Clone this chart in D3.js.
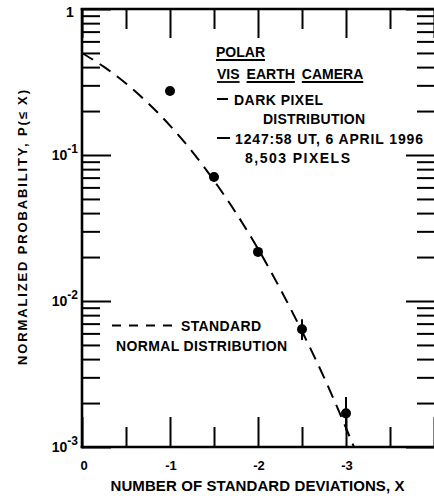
<!DOCTYPE html>
<html>
<head>
<meta charset="utf-8">
<script src="https://cdn.jsdelivr.net/npm/d3@7"></script>
<style>
  html, body { margin: 0; padding: 0; background: #fff; }
  svg { display: block; }
  text { font-family: "Liberation Sans", Arial, Helvetica, sans-serif; font-weight: bold; fill: #000; }
</style>
</head>
<body>
<div id="chart"></div>
<script>
// ---------------- data ----------------
const pointsX = [-1, -1.5, -2, -2.5, -3];
const pointsP = [0.274, 0.0706, 0.0217, 0.0064, 0.0017];
const errLow  = [null, null, null, 0.0054, 0.0013];
const errHigh = [null, null, null, 0.0075, 0.0022];

// standard normal distribution curve
const curveX = [0, -0.25, -0.5, -0.75, -1, -1.25, -1.5, -1.75, -2, -2.25, -2.5, -2.75, -3, -3.09];
const curveP = [0.5, 0.401, 0.309, 0.227, 0.159, 0.106, 0.0668, 0.0401, 0.0228, 0.0122, 0.0062, 0.0030, 0.00135, 0.001];

const xMajorTicks = [0, -1, -2, -3, -4];
const xMinorTicks = [-0.5, -1.5, -2.5, -3.5];
const xTickLabels = ["0", "-1", "-2", "-3"];
const yMajorTicks = [1e-3, 1e-2, 1e-1, 1];
const yTickLabels = [["10", "-3"], ["10", "-2"], ["10", "-1"], ["1", ""]];

const annotationLines = [
  "POLAR",
  "VIS EARTH CAMERA",
  "DARK PIXEL",
  "DISTRIBUTION",
  "1247:58 UT,  6 APRIL 1996",
  "8,503  PIXELS"
];
const legendLines = ["STANDARD", "NORMAL  DISTRIBUTION"];
const xTitle = "NUMBER OF STANDARD DEVIATIONS, X";
const yTitle = "NORMALIZED  PROBABILITY,  P(\u2264 X)";

// ---------------- layout ----------------
const W = 434, H = 500;
const L = 82, R = 434, T = 9, B = 447;

const svg = d3.select("#chart").append("svg").attr("width", W).attr("height", H);

const x = d3.scaleLinear().domain([0, -4]).range([L, R]);
const y = d3.scaleLog().domain([1e-3, 1]).range([B, T]);

const yMinorTicks = [];
[1e-3, 1e-2, 1e-1].forEach(d => { for (let k = 2; k <= 9; k++) yMinorTicks.push(+(k * d).toPrecision(3)); });

function styleAxis(g) {
  g.select(".domain").remove();
  g.selectAll(".tick line").attr("stroke", "#000").attr("stroke-width", 2);
  g.selectAll(".tick text").remove();
}

// bottom axis ticks (inward)
svg.append("g").attr("transform", `translate(0,${B})`)
  .call(d3.axisBottom(x).tickValues(xMajorTicks).tickSize(-30)).call(styleAxis);
svg.append("g").attr("transform", `translate(0,${B})`)
  .call(d3.axisBottom(x).tickValues(xMinorTicks).tickSize(-20)).call(styleAxis);
// top axis ticks (inward)
svg.append("g").attr("transform", `translate(0,${T})`)
  .call(d3.axisTop(x).tickValues(xMajorTicks).tickSize(-29)).call(styleAxis);
svg.append("g").attr("transform", `translate(0,${T})`)
  .call(d3.axisTop(x).tickValues(xMinorTicks).tickSize(-20)).call(styleAxis);
// left axis ticks (inward)
svg.append("g").attr("transform", `translate(${L},0)`)
  .call(d3.axisLeft(y).tickValues(yMajorTicks).tickSize(-29)).call(styleAxis);
svg.append("g").attr("transform", `translate(${L},0)`)
  .call(d3.axisLeft(y).tickValues(yMinorTicks).tickSize(-18)).call(styleAxis);
// right axis ticks (inward)
const RX = 436;
svg.append("g").attr("transform", `translate(${RX},0)`)
  .call(d3.axisRight(y).tickValues(yMajorTicks).tickSize(-30)).call(styleAxis);
svg.append("g").attr("transform", `translate(${RX},0)`)
  .call(d3.axisRight(y).tickValues(yMinorTicks).tickSize(-19)).call(styleAxis);

// frame
const frame = svg.append("g").attr("stroke", "#000").attr("stroke-width", 2.6).attr("fill", "none");
frame.append("line").attr("x1", L).attr("x2", L).attr("y1", T - 1).attr("y2", B + 1.3);
frame.append("line").attr("x1", L - 1.3).attr("x2", W).attr("y1", B).attr("y2", B);
frame.append("line").attr("x1", L - 1.3).attr("x2", W).attr("y1", T).attr("y2", T);

// x tick labels
svg.append("g").selectAll("text").data(xTickLabels).join("text")
  .attr("x", (d, i) => x(xMajorTicks[i]) + (i === 0 ? 2 : 1))
  .attr("y", 470)
  .attr("text-anchor", "middle")
  .attr("font-size", 13)
  .text(d => d);

// y tick labels
const yl = svg.append("g");
yTickLabels.forEach((lab, i) => {
  const v = yMajorTicks[i];
  if (lab[1] === "") {
    yl.append("text").attr("x", 70).attr("y", y(v) + 8).attr("text-anchor", "middle")
      .attr("font-size", 14).text(lab[0]);
  } else {
    const t = yl.append("text").attr("x", 78).attr("y", y(v) + 5).attr("text-anchor", "end");
    t.append("tspan").attr("font-size", 14).text(lab[0]);
    t.append("tspan").attr("font-size", 12).attr("dy", -7).text(lab[1]);
  }
});

// axis titles
svg.append("text").attr("x", (110 + 405) / 2).attr("y", 491).attr("text-anchor", "middle")
  .attr("font-size", 15).attr("textLength", 294).attr("lengthAdjust", "spacing").text(xTitle);
svg.append("text").attr("transform", `translate(27,${(90 + 365) / 2}) rotate(-90)`)
  .attr("text-anchor", "middle").attr("font-size", 13)
  .attr("textLength", 275).attr("lengthAdjust", "spacing").text(yTitle);

// clip
svg.append("clipPath").attr("id", "clip").append("rect")
  .attr("x", L).attr("y", T).attr("width", R - L).attr("height", B - T);

// normal distribution dashed curve
const line = d3.line().x((d, i) => x(curveX[i])).y(d => y(d)).curve(d3.curveMonotoneX);
svg.append("path").datum(curveP).attr("clip-path", "url(#clip)")
  .attr("d", line).attr("fill", "none").attr("stroke", "#000")
  .attr("stroke-width", 2).attr("stroke-dasharray", "13,8");

// error bars
svg.append("g").selectAll("line").data(pointsX.map((d, i) => i).filter(i => errLow[i] != null)).join("line")
  .attr("x1", i => x(pointsX[i])).attr("x2", i => x(pointsX[i]))
  .attr("y1", i => y(errLow[i])).attr("y2", i => y(errHigh[i]))
  .attr("stroke", "#000").attr("stroke-width", 2);

// data points
svg.append("g").selectAll("circle").data(pointsP).join("circle")
  .attr("cx", (d, i) => x(pointsX[i])).attr("cy", d => y(d)).attr("r", 5).attr("fill", "#000");

// annotation block
const ann = svg.append("g").attr("font-size", 14);
function underlinedWords(str, x0, yb) {
  let cx = x0;
  str.split(" ").forEach(w => {
    const t = ann.append("text").attr("x", cx).attr("y", yb).text(w);
    const wlen = t.node().getComputedTextLength();
    ann.append("line").attr("x1", cx).attr("x2", cx + wlen).attr("y1", yb + 3).attr("y2", yb + 3)
      .attr("stroke", "#000").attr("stroke-width", 1.8);
    cx += wlen + 7;
  });
}
underlinedWords(annotationLines[0], 216, 57);
underlinedWords(annotationLines[1], 217, 79);
ann.append("line").attr("x1", 217).attr("x2", 228).attr("y1", 99).attr("y2", 99).attr("stroke", "#000").attr("stroke-width", 2);
ann.append("text").attr("x", 234).attr("y", 105).attr("textLength", 89).attr("lengthAdjust", "spacing").text(annotationLines[2]);
ann.append("text").attr("x", 263).attr("y", 124).attr("textLength", 102).attr("lengthAdjust", "spacing").text(annotationLines[3]);
ann.append("line").attr("x1", 217).attr("x2", 230).attr("y1", 138).attr("y2", 138).attr("stroke", "#000").attr("stroke-width", 2);
ann.append("text").attr("x", 235).attr("y", 144).attr("textLength", 188).attr("lengthAdjust", "spacing").text(annotationLines[4]);
ann.append("text").attr("x", 245).attr("y", 163).attr("textLength", 105).attr("lengthAdjust", "spacing").text(annotationLines[5]);

// legend
const leg = svg.append("g").attr("font-size", 14);
leg.append("line").attr("x1", 112).attr("x2", 173).attr("y1", 325.5).attr("y2", 325.5)
  .attr("stroke", "#000").attr("stroke-width", 2).attr("stroke-dasharray", "9,8");
leg.append("text").attr("x", 181).attr("y", 331).attr("textLength", 80).attr("lengthAdjust", "spacing").text(legendLines[0]);
leg.append("text").attr("x", 116).attr("y", 351).attr("textLength", 171).attr("lengthAdjust", "spacing").text(legendLines[1]);
</script>
</body>
</html>
